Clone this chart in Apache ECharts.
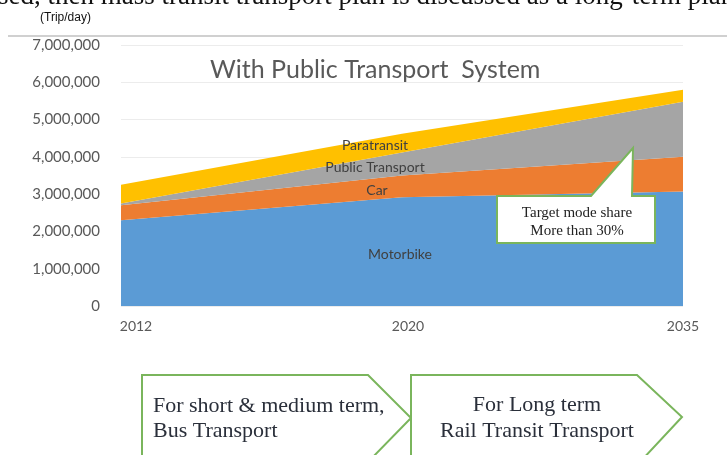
<!DOCTYPE html>
<html>
<head>
<meta charset="utf-8">
<script src="https://cdn.jsdelivr.net/npm/echarts@6/dist/echarts.min.js"></script>
<style>
  html, body { margin: 0; padding: 0; background: #fff; }
  #chart { width: 727px; height: 455px; }
</style>
</head>
<body>
<div id="chart"></div>
<script>
  // trips per day by mode
  const years = ['2012', '2020', '2035']
  const motorbike = [2300000, 2920000, 3070000]
  const car = [400000, 580000, 930000]
  const publicTransport = [50000, 620000, 1480000]
  const paratransit = [500000, 500000, 320000]

  const seriesNames = ['Motorbike', 'Car', 'Public Transport', 'Paratransit']
  const seriesColors = ['#5b9bd5', '#ed7d31', '#a5a5a5', '#ffc000']
  const seriesData = [motorbike, car, publicTransport, paratransit]

  const green = '#7ab55c'
  const axisFont = 'Lato, "Open Sans", sans-serif'
  const serif = '"Liberation Serif", "DejaVu Serif", serif'

  let chart = echarts.init(document.getElementById('chart'), null, {renderer: 'canvas'})

  const label = (text, x, y) => ({
    type: 'text', x, y, z: 100,
    style: {text, align: 'center', verticalAlign: 'middle', font: '14px ' + axisFont, fill: '#404040'}
  })
  const boxText = (text, x, y, align) => ({
    type: 'text', x, y, z: 100,
    style: {text, align, verticalAlign: 'middle', font: '22px ' + serif, fill: '#2a2f3a'}
  })

  chart.setOption({
    animation: false,
    title: {
      text: 'With Public Transport  System',
      left: 205, top: 52,
      textStyle: {fontFamily: axisFont, fontSize: 25, fontWeight: 'normal', color: '#595959'}
    },
    grid: {left: 121, right: 44, top: 45, bottom: 149},
    xAxis: {
      type: 'category',
      data: years,
      boundaryGap: false,
      axisLine: {show: false},
      axisTick: {show: false},
      axisLabel: {
        margin: 13,
        formatter: (v, i) => ['{a|', '{b|', '{c|'][i] + v + '}',
        rich: {
          a: {fontFamily: axisFont, fontSize: 14, color: '#595959', padding: [0, 0, 0, 30]},
          b: {fontFamily: axisFont, fontSize: 14, color: '#595959', padding: [0, 0, 0, 12]},
          c: {fontFamily: axisFont, fontSize: 14, color: '#595959'}
        }
      }
    },
    yAxis: {
      type: 'value',
      min: 0, max: 7000000, interval: 1000000,
      axisLine: {show: false},
      axisTick: {show: false},
      splitLine: {lineStyle: {color: '#ececec'}},
      axisLabel: {
        margin: 21,
        fontFamily: axisFont, fontSize: 15, color: '#595959',
        formatter: v => v.toLocaleString('en-US')
      }
    },
    series: seriesNames.map((name, i) => ({
      type: 'line',
      name,
      stack: 'trips',
      symbol: 'none',
      lineStyle: {width: 0},
      areaStyle: {color: seriesColors[i], opacity: 1},
      itemStyle: {color: seriesColors[i]},
      data: seriesData[i]
    })),
    graphic: [
      // cut-off line of body text above the figure
      {type: 'text', left: -2, top: -17, style: {text: 'sed, then mass transit transport plan is discussed as a long-term plan', font: '27px ' + serif, fill: '#111'}},
      {type: 'text', left: 40, top: 12, style: {text: '(Trip/day)', font: '12px "Liberation Sans", Arial, sans-serif', fill: '#111'}},
      {type: 'line', shape: {x1: 8, y1: 36, x2: 727, y2: 36}, style: {stroke: '#d0d0d0', lineWidth: 2}},
      // band labels
      label('Paratransit', 375, 145),
      label('Public Transport', 375, 167),
      label('Car', 377, 190),
      label('Motorbike', 400, 254),
      // callout
      {type: 'polygon', z: 100, shape: {points: [[497, 196], [591, 196], [633, 148], [632, 196], [655, 196], [655, 243], [497, 243]]}, style: {fill: '#fff', stroke: green, lineWidth: 2}},
      {type: 'text', x: 577, y: 213, z: 101, style: {text: 'Target mode share', align: 'center', verticalAlign: 'middle', font: '15px ' + serif, fill: '#222'}},
      {type: 'text', x: 577, y: 231, z: 101, style: {text: 'More than 30%', align: 'center', verticalAlign: 'middle', font: '15px ' + serif, fill: '#222'}},
      // phase arrows
      {type: 'polygon', shape: {points: [[142, 375], [368, 375], [411, 418], [368, 462], [142, 462]]}, style: {fill: '#fff', stroke: green, lineWidth: 2}},
      {type: 'polygon', shape: {points: [[411, 375], [637, 375], [682, 417], [640, 462], [411, 462]]}, style: {fill: '#fff', stroke: green, lineWidth: 2}},
      boxText('For short & medium term,', 153, 406, 'left'),
      boxText('Bus Transport', 153, 431, 'left'),
      boxText('For Long term', 537, 405, 'center'),
      boxText('Rail Transit Transport', 537, 431, 'center')
    ]
  })
</script>
</body>
</html>
